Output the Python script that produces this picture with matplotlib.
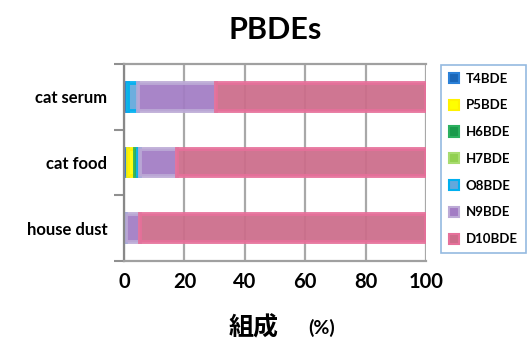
import numpy as np
import matplotlib
matplotlib.use('Agg')
import matplotlib.pyplot as plt
from matplotlib.patches import Patch

plt.rcParams['font.family'] = ['Lato', 'Noto Sans CJK JP', 'DejaVu Sans']
plt.rcParams['font.weight'] = 'bold'

# data (percent composition), bottom to top
categories = ['house dust', 'cat food', 'cat serum']
congeners = ['T4BDE', 'P5BDE', 'H6BDE', 'H7BDE', 'O8BDE', 'N9BDE', 'D10BDE']
T4 = [0.3, 1.2, 1.2]
P5 = [0.0, 2.6, 0.0]
H6 = [0.0, 0.7, 0.0]
H7 = [0.0, 0.0, 0.0]
O8 = [0.5, 0.8, 3.6]
N9 = [4.5, 12.3, 25.7]
D10 = [94.7, 82.4, 69.5]
series = [T4, P5, H6, H7, O8, N9, D10]

face_colors = ['#1a66b8', '#ffff00', '#1a9a4c', '#92d050', '#62a8dc', '#a27cc4', '#cc6c8a']
edge_colors = ['#2a80d8', '#fff200', '#2cb060', '#a8dc70', '#00b0f0', '#bcaad6', '#e6709a']

fig = plt.figure(figsize=(5.28, 3.40), dpi=100)
ax = fig.add_axes([0.2348, 0.2324, 0.572, 0.5794])

y = np.arange(len(categories))
left = np.zeros(len(categories))
for vals, fc, ec in zip(series, face_colors, edge_colors):
    ax.barh(y, vals, left=left, height=0.42, color=fc, edgecolor=ec,
            linewidth=2.8, alpha=0.93, zorder=2)
    left += np.array(vals)

ax.set_xlim(0, 100)
ax.set_ylim(-0.5, 2.5)
ax.set_xticks(np.arange(0, 101, 20))
ax.set_yticks(y)
ax.set_yticklabels(categories, fontsize=12, fontweight='bold')
ax.set_yticks([-0.5, 0.5, 1.5, 2.5], minor=True)
ax.tick_params(axis='y', which='major', length=0, pad=12)
ax.tick_params(axis='y', which='minor', length=7, color='#909090', width=1.5)
ax.tick_params(axis='x', length=0, labelsize=14.5, pad=8)
for lab in ax.get_xticklabels():
    lab.set_fontweight('bold')

ax.grid(axis='x', color='#a8a8a8', linewidth=1.6, zorder=1)
ax.set_axisbelow(True)
for side in ['top', 'bottom', 'left']:
    ax.spines[side].set_color('#a0a0a0')
    ax.spines[side].set_linewidth(1.6)
ax.spines['left'].set_color('#888888')
ax.spines['right'].set_visible(False)

ax.set_title('PBDEs', fontsize=22, fontweight='bold', pad=18)

fig.text(0.433, 0.038, '組成', fontsize=18, fontweight='bold', ha='left', va='center')
fig.text(0.583, 0.036, '(%)', fontsize=14, fontweight='bold', ha='left', va='center')

handles = [Patch(facecolor=fc, edgecolor=ec, linewidth=1.5) for fc, ec in zip(face_colors, edge_colors)]
leg = fig.legend(handles, congeners, loc='upper left', bbox_to_anchor=(0.835, 0.81),
                 fontsize=9.5, frameon=True, fancybox=False, handlelength=0.8,
                 handleheight=0.8, handletextpad=0.5, labelspacing=1.12,
                 borderpad=0.6, borderaxespad=0)
leg.get_frame().set_edgecolor('#7aa8d8')
leg.get_frame().set_linewidth(1.2)
for t in leg.get_texts():
    t.set_fontweight('bold')

fig.savefig('out.png', dpi=100)
